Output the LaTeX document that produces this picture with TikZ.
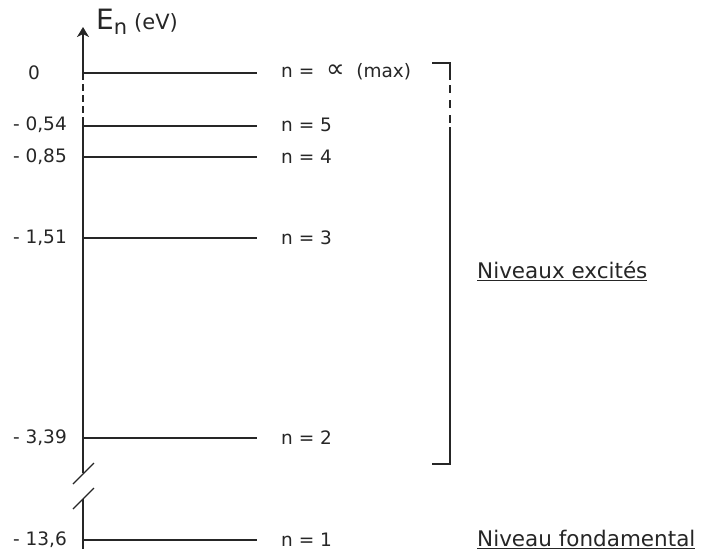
\documentclass[tikz,border=0pt]{standalone}
\usepackage{fontspec}
\setmainfont{DejaVu Sans}
\usetikzlibrary{arrows.meta}
\begin{document}
\begin{tikzpicture}[x=1pt,y=-1pt,
  axisline/.style={line width=1.7pt,black!85},
  level/.style={line width=1.7pt,black!85},
  vallabel/.style={anchor=east,inner sep=0pt,font=\fontsize{18.5}{20}\selectfont,text=black!85},
  nlabel/.style={anchor=west,inner sep=0pt,font=\fontsize{18.5}{20}\selectfont,text=black!85},
  grouplabel/.style={anchor=west,inner sep=0pt,font=\fontsize{21.5}{23}\selectfont,text=black!85},
  dashseg/.style={line width=1.7pt,black!85,dash pattern=on 7pt off 4pt}]
\useasboundingbox (0,0) rectangle (708,551);
% axis
\coordinate (atop) at (83,27);
\coordinate (a0) at (83,73);
\coordinate (a1) at (83,124);
\coordinate (abrk1) at (83,473);
\coordinate (abrk2) at (83,499);
\coordinate (abot) at (83,549);
\draw[axisline,-{Stealth[length=10pt,width=12pt,inset=3pt]}] (a0) -- (atop);
\draw[dashseg] (a0) -- (a1);
\draw[axisline] (a1) -- (abrk1);
\draw[axisline] (abrk2) -- (abot);
% break marks
\coordinate (s1a) at (73,484);
\coordinate (s1b) at (94,463);
\coordinate (s2a) at (73,509);
\coordinate (s2b) at (94,488);
\draw[line width=1.2pt,black!85] (s1a) -- (s1b);
\draw[line width=1.2pt,black!85] (s2a) -- (s2b);
% axis label
\node[anchor=base west,inner sep=0pt,text=black!85] (elab) at (96,30)
  {\fontsize{28}{30}\selectfont E\raisebox{-5pt}{\fontsize{21}{22}\selectfont n}\hspace{7pt}\fontsize{21}{22}\selectfont (eV)};
% levels
\foreach \nm/\y in {inf/73,five/126,four/157,three/238,two/438,one/540}{
  \coordinate (L\nm) at (83,\y);
  \coordinate (R\nm) at (257,\y);
  \draw[level] (L\nm) -- (R\nm);
}
% values
\node[anchor=center,inner sep=0pt,font=\fontsize{18.5}{20}\selectfont,text=black!85] (v0) at (34,73) {0};
\node[vallabel] (v5) at (67,125) {- 0,54};
\node[vallabel] (v4) at (67,157) {- 0,85};
\node[vallabel] (v3) at (67,238) {- 1,51};
\node[vallabel] (v2) at (67,438) {- 3,39};
\node[vallabel] (v1) at (67,540) {- 13,6};
% n labels
\node[nlabel] (ninf) at (281,72) {n = \ {\fontsize{26}{26}\selectfont ∝}\ \ (max)};
\node[nlabel] (n5) at (281,125) {n = 5};
\node[nlabel] (n4) at (281,157) {n = 4};
\node[nlabel] (n3) at (281,238) {n = 3};
\node[nlabel] (n2) at (281,438) {n = 2};
\node[nlabel] (n1) at (281,540) {n = 1};
% bracket
\coordinate (bt0) at (432,63);
\coordinate (bt1) at (450,63);
\coordinate (bd) at (450,80);
\coordinate (bs) at (450,127);
\coordinate (bb1) at (450,464);
\coordinate (bb0) at (432,464);
\draw[axisline] (bt0) -- (bt1) -- (bd);
\draw[line width=1.7pt,black!85,dash pattern=on 8pt off 7pt] (bd) ++(0,5) -- (bs);
\draw[axisline] (bs) -- (bb1) -- (bb0);
% group labels
\node[grouplabel] (exc) at (477,271) {\underline{Niveaux excités}};
\node[grouplabel] (fond) at (477,539) {\underline{Niveau fondamental}};
\end{tikzpicture}
\end{document}
